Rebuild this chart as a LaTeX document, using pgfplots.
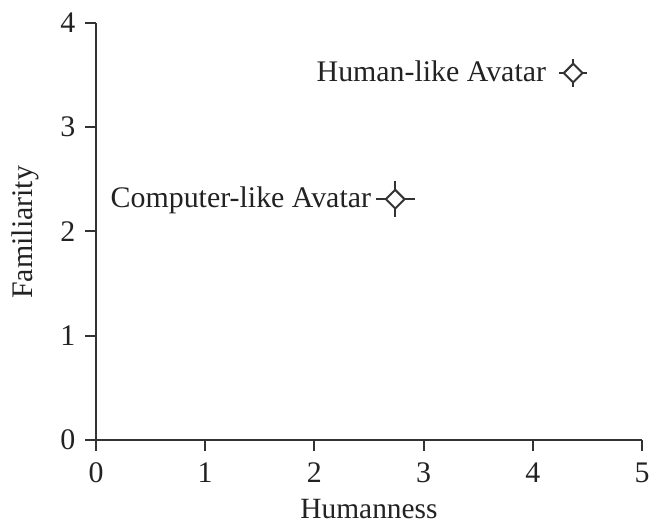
\documentclass[border=0pt]{standalone}
\usepackage{fontspec}
\setmainfont{Liberation Serif}
\usepackage{pgfplots}
\pgfplotsset{compat=1.18}
\definecolor{ink}{HTML}{333333}
\definecolor{txt}{HTML}{222222}
\begin{document}
\begin{tikzpicture}
\begin{axis}[
  scale only axis, width=546bp, height=417bp,
  xmin=0, xmax=5, ymin=0, ymax=4,
  axis x line*=bottom, axis y line*=left,
  axis line style={ink, line width=2bp, -},
  xtick={0,1,2,3,4,5}, ytick={0,1,2,3,4},
  tick align=outside, major tick length=10.5bp,
  tick style={ink, line width=2bp},
  /pgf/number format/assume math mode=true,
  ticklabel style={font=\fontsize{30}{34}\selectfont, text=txt},
  xticklabel style={yshift=-9bp},
  yticklabel style={xshift=-6.7bp},
  xlabel={Humanness}, ylabel={Familiarity},
  xlabel style={font=\fontsize{29.5}{34}\selectfont, text=txt, at={(axis description cs:0.5,-0.188)}, anchor=base},
  ylabel style={font=\fontsize{30}{34}\selectfont, text=txt, at={(axis description cs:-0.1154,0.498)}, anchor=base, rotate=0},
  clip=false,
]
\addplot[ink, no markers, draw=none,
  error bars/.cd, x dir=both, y dir=both, x explicit, y explicit,
  error mark=none, error bar style={line width=2.2bp, ink}]
  table[x=x, y=y, x error=ex, y error=ey] {
x    y    ex   ey
4.37 3.52 0.13 0.135
2.74 2.31 0.18 0.175
};
\addplot[ink, only marks, mark=square*, mark size=6.6bp,
  mark options={rotate=45, fill=white, draw=ink, line width=2bp}]
  table[x=x, y=y] {
x    y
4.37 3.52
2.74 2.31
};
\node[anchor=base east, font=\fontsize{30}{34}\selectfont, text=txt, inner sep=0pt] at (axis cs:4.37,3.44) [xshift=-27bp] {Human-like Avatar};
\node[anchor=base east, font=\fontsize{30}{34}\selectfont, text=txt, inner sep=0pt] at (axis cs:2.74,2.23) [xshift=-24bp] {Computer-like Avatar};
\end{axis}
\pgfresetboundingbox
\path (-96bp,-86bp) rectangle (561bp,440bp);
\end{tikzpicture}
\end{document}
